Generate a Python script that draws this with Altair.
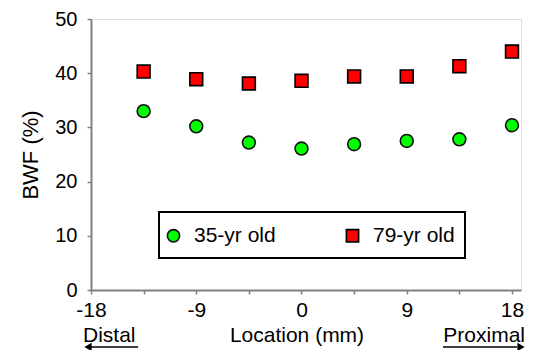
import altair as alt
import pandas as pd

locations = [-13.5, -9, -4.5, 0, 4.5, 9, 13.5, 18]
young = [33.0, 30.2, 27.2, 26.1, 26.9, 27.5, 27.8, 30.4]
old = [40.3, 38.9, 38.1, 38.6, 39.4, 39.4, 41.3, 44.0]
series_names = ["35-yr old", "79-yr old"]
x_ticks = [-18, -13.5, -9, -4.5, 0, 4.5, 9, 13.5, 18]
y_ticks = [0, 10, 20, 30, 40, 50]
bottom_texts = ["Distal", "Location (mm)", "Proximal"]

rows = []
for loc, v in zip(locations, young):
    rows.append({"loc": loc, "bwf": v, "series": series_names[0]})
for loc, v in zip(locations, old):
    rows.append({"loc": loc, "bwf": v, "series": series_names[1]})
df = pd.DataFrame(rows)

FONT = "Liberation Sans"
GRAY = "#808080"

xscale = alt.Scale(domain=[-18, 18.77], nice=False, zero=False)
yscale = alt.Scale(domain=[0, 50], nice=False)

leg = alt.Legend(orient="none", legendX=72, legendY=206, direction="horizontal",
                 title=None, labelFontSize=21, labelFont=FONT, labelColor="black",
                 symbolSize=150, symbolStrokeWidth=1.6,
                 columnPadding=66, labelOffset=10, padding=0)

points = alt.Chart(df).mark_point(filled=False, strokeWidth=1.6, size=165, opacity=1,
                                  fillOpacity=1, strokeOpacity=1).encode(
    x=alt.X("loc:Q", scale=xscale,
            axis=alt.Axis(values=x_ticks, title=None, grid=False,
                          labelExpr="datum.value % 9 == 0 ? '' + datum.value : ''",
                          tickSize=4, labelPadding=5, labelFontSize=21, labelFont=FONT,
                          labelColor="black", domainColor=GRAY, domainWidth=2,
                          tickColor=GRAY, tickWidth=1.5, labelFlush=False)),
    y=alt.Y("bwf:Q", scale=yscale,
            axis=alt.Axis(values=y_ticks, title="BWF (%)", grid=False,
                          tickSize=4, labelPadding=10, labelFontSize=20, labelFont=FONT,
                          labelColor="black", titleFont=FONT, titleFontSize=22,
                          titleFontWeight="normal", titleColor="black", titlePadding=12,
                          domainColor=GRAY, domainWidth=2, tickColor=GRAY, tickWidth=1.5)),
    shape=alt.Shape("series:N", scale=alt.Scale(domain=series_names, range=["circle", "square"]),
                    legend=leg),
    fill=alt.Fill("series:N", scale=alt.Scale(domain=series_names, range=["#00ff00", "#ff0000"]),
                  legend=leg),
    stroke=alt.Stroke("series:N", scale=alt.Scale(domain=series_names, range=["#111111", "#000000"]),
                      legend=leg),
)

frame = alt.Chart(pd.DataFrame({"a": [0]})).mark_rect(fill="white", stroke="black", strokeWidth=2).encode(
    x=alt.value(68), x2=alt.value(374), y=alt.value(193), y2=alt.value(239)
)

txt_df = pd.DataFrame({"t": bottom_texts})
distal = alt.Chart(txt_df[txt_df.t == "Distal"]).mark_text(
    align="left", baseline="alphabetic", font=FONT, fontSize=21, color="black"
).encode(text="t:N", x=alt.value(-8), y=alt.value(323))
location = alt.Chart(txt_df[txt_df.t == "Location (mm)"]).mark_text(
    align="center", baseline="alphabetic", font=FONT, fontSize=21, color="black"
).encode(text="t:N", x=alt.value(206), y=alt.value(323))
proximal = alt.Chart(txt_df[txt_df.t == "Proximal"]).mark_text(
    align="right", baseline="alphabetic", font=FONT, fontSize=21, color="black"
).encode(text="t:N", x=alt.value(434), y=alt.value(323))

one = pd.DataFrame({"a": [0]})
left_line = alt.Chart(one).mark_rule(color="black", strokeWidth=1.5).encode(
    x=alt.value(0), x2=alt.value(47), y=alt.value(328))
right_line = alt.Chart(one).mark_rule(color="black", strokeWidth=1.5).encode(
    x=alt.value(352), x2=alt.value(426), y=alt.value(328))
left_head = alt.Chart(one).mark_point(shape="triangle-left", filled=True, color="black", size=70, opacity=1).encode(
    x=alt.value(-3), y=alt.value(328))
right_head = alt.Chart(one).mark_point(shape="triangle-right", filled=True, color="black", size=70, opacity=1).encode(
    x=alt.value(430), y=alt.value(328))

chart = alt.layer(
    frame, points, distal, location, proximal, left_line, right_line, left_head, right_head
).properties(
    width=430, height=271,
    autosize=alt.AutoSizeParams(type="none"),
    padding={"left": 83, "top": 11, "right": 11, "bottom": 60},
).configure_view(
    stroke=GRAY, strokeWidth=2
).configure(background="white")

chart.save("out.html", embed_options={"renderer": "svg", "actions": False})
